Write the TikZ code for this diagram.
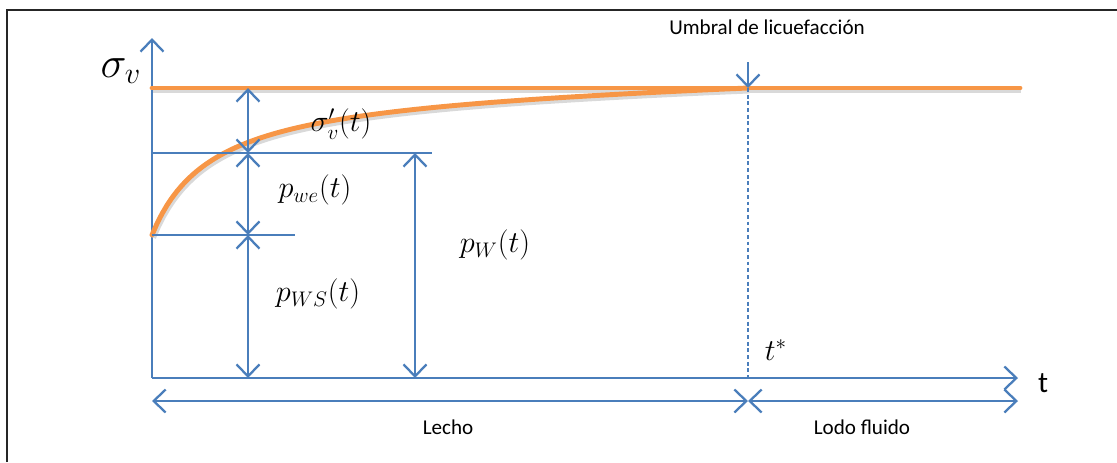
\documentclass[tikz,border=0pt]{standalone}
\usepackage{fontspec}
\setsansfont{Carlito}
\usetikzlibrary{arrows.meta}
\definecolor{axisblue}{HTML}{4A7EBB}
\definecolor{curveorange}{HTML}{F79646}
\begin{document}
\begin{tikzpicture}[x=0.2mm, y=-0.2mm,
  every node/.style={font=\fontsize{17}{19}\selectfont},
  blueline/.style={axisblue, line width=1.3pt},
  barb/.style={blueline, -{Straight Barb[length=2.4mm, width=4.6mm]}},
  dbarb/.style={blueline, {Straight Barb[length=2.4mm, width=4.6mm]}-{Straight Barb[length=2.4mm, width=4.6mm]}},
  orangeline/.style={curveorange, line width=2.8pt, line cap=round},
  shadowline/.style={black!15, line width=3.2pt, transform canvas={shift={(0.7pt,-1.5pt)}}},
  sans/.style={font=\sffamily\fontsize{12}{14}\selectfont}]
  \useasboundingbox (0,0) rectangle (1117,462);
  % frame, cut by the page
  \draw[black!85, line width=1pt] (7,462) -- (7,10) -- (1117,10);
  % axes
  \coordinate (O) at (152,378);
  \coordinate (ytip) at (152,38);
  \coordinate (xtip) at (1018,378);
  \draw[barb] (O) -- (ytip);
  \draw[barb] (O) -- (xtip);
  \node (tlab) at (1043,383) {\sffamily\fontsize{17}{19}\selectfont t};
  \node[font=\fontsize{23}{25}\selectfont] (sv) at (121,71) {$\sigma_v$};
  % total stress and effective stress
  \coordinate (stot) at (152,88);
  \coordinate (stotend) at (1020,88);
  \coordinate (tthr) at (748,88);
  \draw[shadowline] (stot) -- (stotend);
  \draw[shadowline] plot[domain=0:596, samples=120] ({152+\x}, {88+147*(60/(60+\x) - \x/596*60/656)});
  \draw[orangeline] (stot) -- (stotend);
  \draw[orangeline] plot[domain=0:596, samples=120] ({152+\x}, {88+147*(60/(60+\x) - \x/596*60/656)});
  % levels
  \coordinate (lv1) at (152,153);
  \coordinate (lv1end) at (432,153);
  \coordinate (lv2) at (152,235);
  \coordinate (lv2end) at (295,235);
  \draw[blueline, line width=1pt] (lv1) -- (lv1end);
  \draw[blueline, line width=1pt] (lv2) -- (lv2end);
  % pressure arrows
  \coordinate (a0) at (248,88);
  \coordinate (a1) at (248,153);
  \coordinate (a2) at (248,235);
  \coordinate (a3) at (248,378);
  \coordinate (b1) at (415,153);
  \coordinate (b3) at (415,378);
  \draw[dbarb] (a0) -- (a1);
  \draw[dbarb] (a1) -- (a2);
  \draw[dbarb] (a2) -- (a3);
  \draw[dbarb] (b1) -- (b3);
  \node (svt) at (341,124) {$\sigma_v^{\prime}(t)$};
  \node (pwe) at (315,190) {$p_{we}(t)$};
  \node (pw) at (495,245) {$p_{W}(t)$};
  \node (pws) at (318,294) {$p_{WS}(t)$};
  % liquefaction threshold
  \coordinate (tstarbase) at (748,378);
  \coordinate (umbtop) at (748,62);
  \draw[blueline, line width=1pt, dash pattern=on 2.2pt off 1.6pt] (tthr) -- (tstarbase);
  \draw[barb] (umbtop) -- (tthr);
  \node[sans] (umbral) at (767,27) {Umbral de licuefacción};
  \node (tstar) at (776,350) {$t^{*}$};
  % stages
  \coordinate (s0) at (152,401);
  \coordinate (s1) at (748,401);
  \coordinate (s2) at (1018,401);
  \draw[dbarb] (s0) -- (s1);
  \draw[dbarb] (s1) -- (s2);
  \node[sans] (lecho) at (448,427) {Lecho};
  \node[sans] (lodo) at (862,427) {Lodo fluido};
\end{tikzpicture}
\end{document}
